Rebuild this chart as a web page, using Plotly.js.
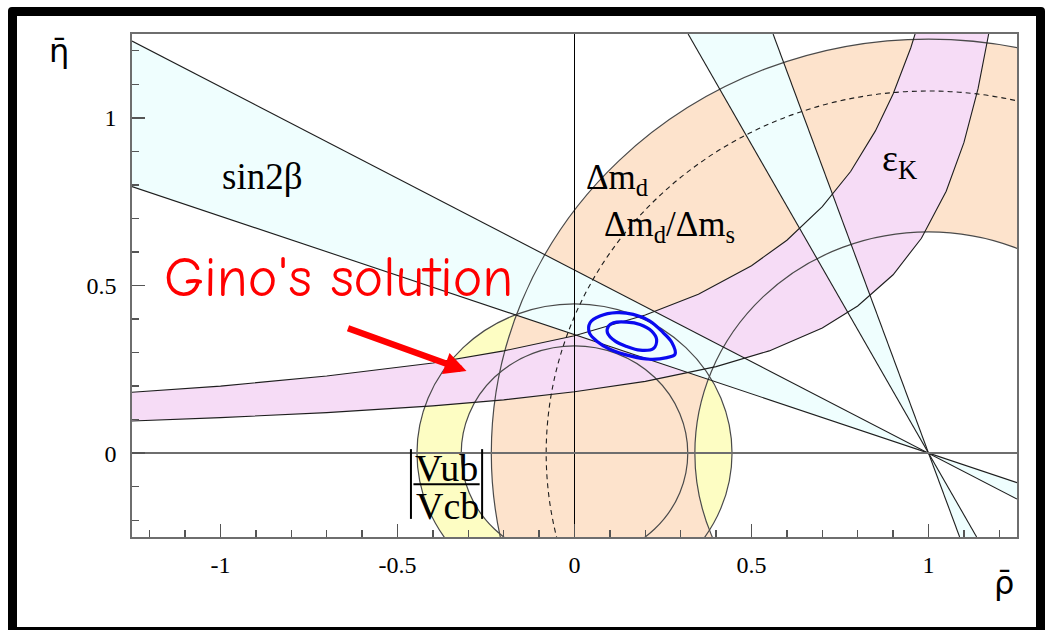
<!DOCTYPE html>
<html>
<head>
<meta charset="utf-8">
<script src="https://cdn.plot.ly/plotly-3.0.1.min.js"></script>
<style>
  html, body { margin: 0; padding: 0; background: #fff; }
  #wrap { position: relative; width: 1048px; height: 630px; overflow: hidden; }
  #chart { width: 1048px; height: 630px; }
  #frame { position: absolute; left: 8px; top: 7px; width: 1037px; height: 629px;
           box-sizing: border-box; border: 9px solid #000; border-radius: 4px; pointer-events: none; }
</style>
</head>
<body>
<div id="wrap"><div id="chart"></div><div id="frame"></div></div>
<script>
// ---- axes ----
const xRange = [-1.25, 1.25];
const yRange = [-0.25, 1.25];
const xTickVals = [-1, -0.5, 0, 0.5, 1];
const xTickText = ['-1', '-0.5', '0', '0.5', '1'];
const yTickVals = [0, 0.5, 1];
const yTickText = ['0', '0.5', '1'];

// ---- |Vub/Vcb| annulus around the origin ----
const vubCentre = [0, 0];
const vubRadii = [0.32, 0.445];

// ---- Δm_d annulus around (1, 0) and the Δm_d/Δm_s bound ----
const dmdCentre = [1, 0];
const dmdRadii = [0.66, 1.235];
const dmsRadius = 1.08;

// ---- sin2β: two wedges meeting at (1, 0), given by where their edges leave the frame ----
const betaApex = [1, 0];
const betaShallowLeftEta = [1.229, 0.795];    // at ρ = -1.25
const betaShallowRightEta = [-0.137, -0.088]; // at ρ = 1.25
const betaSteepTopRho = [0.321, 0.561];       // at η = 1.25
const betaSteepBottomRho = [1.136, 1.088];    // at η = -0.25

// ---- εK band edges ----
const epsUpperRho = [-1.30, -1.00, -0.70, -0.40, -0.20, 0.00, 0.20, 0.35, 0.50, 0.60, 0.70, 0.78, 0.85, 0.90, 0.95, 0.98];
const epsUpperEta = [0.178, 0.200, 0.230, 0.269, 0.305, 0.350, 0.412, 0.474, 0.559, 0.635, 0.735, 0.840, 0.961, 1.071, 1.209, 1.311];
const epsLowerRho = [-1.30, -1.00, -0.70, -0.40, -0.20, 0.00, 0.20, 0.40, 0.55, 0.70, 0.80, 0.90, 0.98, 1.05, 1.10, 1.14, 1.17, 1.18];
const epsLowerEta = [0.094, 0.106, 0.121, 0.141, 0.159, 0.183, 0.214, 0.258, 0.305, 0.373, 0.439, 0.532, 0.641, 0.781, 0.926, 1.087, 1.250, 1.316];

// ---- fit contours ----
const fitOuterRho = [0.044, 0.072, 0.119, 0.166, 0.213, 0.251, 0.275, 0.284, 0.261, 0.213, 0.157, 0.100, 0.063, 0.042];
const fitOuterEta = [0.389, 0.409, 0.419, 0.414, 0.394, 0.359, 0.330, 0.295, 0.285, 0.280, 0.290, 0.310, 0.334, 0.359];
const fitInnerRho = [0.096, 0.110, 0.148, 0.185, 0.218, 0.232, 0.223, 0.185, 0.148, 0.115, 0.093];
const fitInnerEta = [0.379, 0.389, 0.391, 0.384, 0.364, 0.339, 0.312, 0.307, 0.318, 0.334, 0.359];

// ---- colours ----
const YELLOW = '#fdfdc3';
const PEACH = '#fde3cc';
const PINK = '#f6dcf6';
const CYAN = '#effefe';
const EDGE = '#1e1e1e';
const RING = '#4a4a4a';

function circleShape(c, r, extra) {
  return Object.assign({
    type: 'circle', xref: 'x', yref: 'y', layer: 'below',
    x0: c[0] - r, x1: c[0] + r, y0: c[1] - r, y1: c[1] + r
  }, extra);
}
function polyPath(xs, ys, close) {
  let s = '';
  for (let i = 0; i < xs.length; i++) s += (i ? ' L ' : 'M ') + xs[i] + ' ' + ys[i];
  return close ? s + ' Z' : s;
}
function pathShape(path, extra) {
  return Object.assign({ type: 'path', xref: 'x', yref: 'y', layer: 'below', path: path }, extra);
}
const noLine = { width: 0 };
const clear = 'rgba(0,0,0,0)';

// part of the |Vub/Vcb| ring lying inside the inner Δm_d circle (a lens between two arcs)
const sep = dmdCentre[0] - vubCentre[0];
const tipX = (vubRadii[1] ** 2 - dmdRadii[0] ** 2 + sep * sep) / (2 * sep);
const tipY = Math.sqrt(vubRadii[1] ** 2 - tipX ** 2);
const lensLeftCtrl = 2 * (dmdCentre[0] - dmdRadii[0]) - tipX;
const lensRightCtrl = 2 * (vubCentre[0] + vubRadii[1]) - tipX;
const lensPath = `M ${tipX} ${tipY} Q ${lensLeftCtrl} 0 ${tipX} ${-tipY} Q ${lensRightCtrl} 0 ${tipX} ${tipY} Z`;

// εK band polygon
const epsPolyX = epsUpperRho.concat(epsLowerRho.slice().reverse());
const epsPolyY = epsUpperEta.concat(epsLowerEta.slice().reverse());

// sin2β wedges
const shallowWedgeL = polyPath([xRange[0], betaApex[0], xRange[0]], [betaShallowLeftEta[0], betaApex[1], betaShallowLeftEta[1]], true);
const shallowWedgeR = polyPath([betaApex[0], xRange[1], xRange[1]], [betaApex[1], betaShallowRightEta[0], betaShallowRightEta[1]], true);
const steepWedgeT = polyPath([betaSteepTopRho[0], betaApex[0], betaSteepTopRho[1]], [yRange[1], betaApex[1], yRange[1]], true);
const steepWedgeB = polyPath([betaApex[0], betaSteepBottomRho[0], betaSteepBottomRho[1]], [betaApex[1], yRange[0], yRange[0]], true);

const shapes = [
  // fills, bottom to top
  circleShape(vubCentre, vubRadii[1], { fillcolor: YELLOW, line: noLine }),
  circleShape(vubCentre, vubRadii[0], { fillcolor: '#ffffff', line: noLine }),
  circleShape(dmdCentre, dmdRadii[1], { fillcolor: PEACH, line: noLine }),
  circleShape(dmdCentre, dmdRadii[0], { fillcolor: '#ffffff', line: noLine }),
  pathShape(lensPath, { fillcolor: YELLOW, line: noLine }),
  pathShape(polyPath(epsPolyX, epsPolyY, true), { fillcolor: PINK, line: noLine }),
  pathShape(shallowWedgeL, { fillcolor: CYAN, line: noLine }),
  pathShape(shallowWedgeR, { fillcolor: CYAN, line: noLine }),
  pathShape(steepWedgeT, { fillcolor: CYAN, line: noLine }),
  pathShape(steepWedgeB, { fillcolor: CYAN, line: noLine }),
  // edges
  circleShape(vubCentre, vubRadii[0], { fillcolor: clear, line: { color: RING, width: 1.2 } }),
  circleShape(vubCentre, vubRadii[1], { fillcolor: clear, line: { color: RING, width: 1.2 } }),
  circleShape(dmdCentre, dmdRadii[0], { fillcolor: clear, line: { color: RING, width: 1.2 } }),
  circleShape(dmdCentre, dmdRadii[1], { fillcolor: clear, line: { color: RING, width: 1.2 } }),
  circleShape(dmdCentre, dmsRadius, { fillcolor: clear, line: { color: EDGE, width: 1.1, dash: '5px,4px' } }),
  pathShape(polyPath(epsUpperRho, epsUpperEta, false), { fillcolor: clear, line: { color: EDGE, width: 1.1 } }),
  pathShape(polyPath(epsLowerRho, epsLowerEta, false), { fillcolor: clear, line: { color: EDGE, width: 1.1 } })
];
// sin2β edges, frame to frame through the apex
for (let i = 0; i < 2; i++) {
  shapes.push({ type: 'line', xref: 'x', yref: 'y', layer: 'below',
    x0: xRange[0], y0: betaShallowLeftEta[i], x1: xRange[1], y1: betaShallowRightEta[i],
    line: { color: EDGE, width: 1.1 } });
  shapes.push({ type: 'line', xref: 'x', yref: 'y', layer: 'below',
    x0: betaSteepTopRho[i], y0: yRange[1], x1: betaSteepBottomRho[i], y1: yRange[0],
    line: { color: EDGE, width: 1.1 } });
}
// bars and fraction rule of the |Vub/Vcb| label
const absBarRho = [-0.462, -0.261];
const absBarEta = [0.012, -0.196];
const fracRuleRho = [-0.455, -0.268];
const fracRuleEta = -0.093;
absBarRho.forEach(r => shapes.push({ type: 'line', xref: 'x', yref: 'y', layer: 'above',
  x0: r, x1: r, y0: absBarEta[0], y1: absBarEta[1], line: { color: '#000', width: 2 } }));
shapes.push({ type: 'line', xref: 'x', yref: 'y', layer: 'above',
  x0: fracRuleRho[0], x1: fracRuleRho[1], y0: fracRuleEta, y1: fracRuleEta, line: { color: '#000', width: 2 } });

function closed(a) { return a.concat([a[0]]); }
const traces = [
  { x: closed(fitOuterRho), y: closed(fitOuterEta), type: 'scatter', mode: 'lines',
    line: { color: '#0a0af0', width: 3.2, shape: 'spline', smoothing: 1 }, hoverinfo: 'skip', showlegend: false },
  { x: closed(fitInnerRho), y: closed(fitInnerEta), type: 'scatter', mode: 'lines',
    line: { color: '#0a0af0', width: 3.2, shape: 'spline', smoothing: 1 }, hoverinfo: 'skip', showlegend: false }
];

const SERIF = '"Liberation Serif", "Times New Roman", serif';
function label(text, x, y, size, anchor) {
  return { text: text, x: x, y: y, xref: 'x', yref: 'y', showarrow: false,
    xanchor: anchor || 'center', yanchor: 'middle',
    font: { family: SERIF, size: size, color: '#000' } };
}
const annotations = [
  label('sin2β', -0.881, 0.824, 37),
  label('Δm<sub>d</sub>', 0.027, 0.815, 35, 'left'),
  label('Δm<sub>d</sub>/Δm<sub>s</sub>', 0.078, 0.675, 35, 'left'),
  label('ε<sub>K</sub>', 0.863, 0.870, 38, 'left'),
  label('Vub', -0.362, -0.043, 38),
  label('Vcb', -0.359, -0.159, 38),
  { text: "Gino's solution", x: -0.666, y: 0.521, xref: 'x', yref: 'y', showarrow: false,
    font: { family: '"Comic Sans MS", "Comic Neue", Lato, sans-serif', size: 56, color: '#ff0000' } },
  { text: '', x: -0.305, y: 0.245, ax: -0.644, ay: 0.374, xref: 'x', yref: 'y', axref: 'x', ayref: 'y',
    showarrow: true, arrowhead: 2, arrowsize: 0.68, arrowwidth: 6.5, arrowcolor: '#ff0000', standoff: 0 },
  { text: 'η\u0304', x: -0.096, y: 1.008, xref: 'paper', yref: 'paper', showarrow: false,
    font: { family: '"DejaVu Sans", sans-serif', size: 32, color: '#000' } },
  { text: 'ρ\u0304', x: 0.999, y: -0.133, xref: 'paper', yref: 'paper', showarrow: false,
    font: { family: '"DejaVu Sans", sans-serif', size: 32, color: '#000' } }
];

const axisCommon = {
  showgrid: false, showline: true, mirror: true, linecolor: '#6e6e6e', linewidth: 1.6,
  ticks: 'inside', ticklen: 13, tickwidth: 1.5, tickcolor: '#555',
  tickmode: 'array',
  tickfont: { family: SERIF, size: 24, color: '#000' },
  minor: { tickmode: 'linear', tick0: 0, dtick: 0.1, ticks: 'inside', ticklen: 7, tickwidth: 1.3, tickcolor: '#555' }
};

const layout = {
  width: 1048, height: 630,
  margin: { l: 132, r: 31, t: 34, b: 93 },
  paper_bgcolor: '#ffffff', plot_bgcolor: '#ffffff',
  showlegend: false,
  xaxis: Object.assign({}, axisCommon, { range: xRange, tickvals: xTickVals, ticktext: xTickText,
    ticklabelstandoff: 6, zeroline: true, zerolinecolor: '#000', zerolinewidth: 1 }),
  yaxis: Object.assign({}, axisCommon, { range: yRange, tickvals: yTickVals, ticktext: yTickText,
    ticklabelstandoff: 9, zeroline: true, zerolinecolor: '#6e6e6e', zerolinewidth: 2 }),
  shapes: shapes,
  annotations: annotations
};

Plotly.newPlot('chart', traces, layout, { displayModeBar: false, staticPlot: true });
</script>
</body>
</html>
